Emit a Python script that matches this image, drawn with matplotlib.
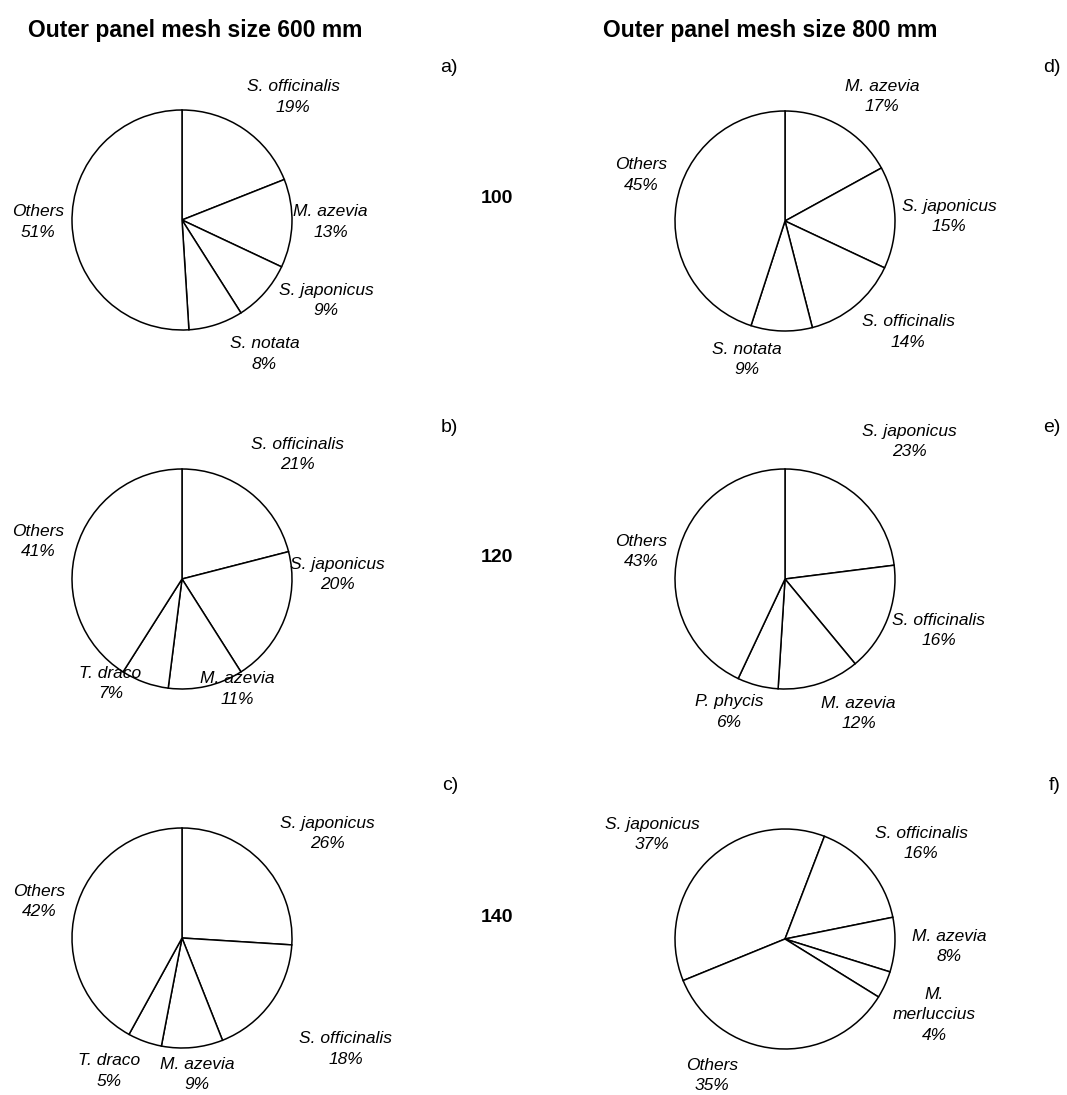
import matplotlib
matplotlib.use("Agg")
import matplotlib.pyplot as plt

# ---------------- data ----------------
col_titles = ["Outer panel mesh size 600 mm", "Outer panel mesh size 800 mm"]
row_labels = ["100", "120", "140"]
panel_letters = ["a)", "b)", "c)", "d)", "e)", "f)"]

species_a = ["S. officinalis", "M. azevia", "S. japonicus", "S. notata", "Others"]
values_a = [19, 13, 9, 8, 51]

species_b = ["S. officinalis", "S. japonicus", "M. azevia", "T. draco", "Others"]
values_b = [21, 20, 11, 7, 41]

species_c = ["S. japonicus", "S. officinalis", "M. azevia", "T. draco", "Others"]
values_c = [26, 18, 9, 5, 42]

species_d = ["M. azevia", "S. japonicus", "S. officinalis", "S. notata", "Others"]
values_d = [17, 15, 14, 9, 45]

species_e = ["S. japonicus", "S. officinalis", "M. azevia", "P. phycis", "Others"]
values_e = [23, 16, 12, 6, 43]

species_f = ["S. japonicus", "S. officinalis", "M. azevia", "M.\nmerluccius", "Others"]
values_f = [37, 16, 8, 4, 35]

# ---------------- layout (pixels / pie-radius units) ----------------
W, H = 1067, 1095
R = 110  # pie radius in px

panels = [
    # species, values, centre(px), startangle, label offsets (radius units, x right / y up)
    (species_a, values_a, (182, 220), 90,
     [(1.01, 1.12), (1.35, -0.02), (1.31, -0.73), (0.75, -1.22), (-1.31, -0.02)]),
    (species_b, values_b, (182, 579), 90,
     [(1.05, 1.13), (1.41, 0.04), (0.50, -1.00), (-0.65, -0.95), (-1.31, 0.34)]),
    (species_c, values_c, (182, 938), 90,
     [(1.32, 0.95), (1.49, -1.01), (0.14, -1.24), (-0.66, -1.21), (-1.30, 0.33)]),
    (species_d, values_d, (785, 221), 90,
     [(0.88, 1.13), (1.49, 0.04), (1.12, -1.01), (-0.35, -1.26), (-1.31, 0.42)]),
    (species_e, values_e, (785, 579), 90,
     [(1.13, 1.25), (1.40, -0.47), (0.67, -1.22), (-0.51, -1.21), (-1.31, 0.25)]),
    (species_f, values_f, (785, 939), 202.2,
     [(-1.21, 0.95), (1.24, 0.87), (1.49, -0.07), (1.36, -0.69), (-0.66, -1.24)]),
]

FONT = "Liberation Sans"
FS = 12.5

fig = plt.figure(figsize=(W / 100, H / 100), dpi=100)
fig.patch.set_facecolor("white")

for species, values, (cx, cy), start, offs in panels:
    ax = fig.add_axes([(cx - 2 * R) / W, (H - cy - 2 * R) / H, 4 * R / W, 4 * R / H])
    ax.pie(values, startangle=start, counterclock=False,
           colors=["white"] * len(values),
           wedgeprops=dict(edgecolor="black", linewidth=1.1))
    ax.set_xlim(-2, 2)
    ax.set_ylim(-2, 2)
    ax.set_aspect("equal")
    ax.axis("off")
    for name, v, (ox, oy) in zip(species, values, offs):
        ax.text(ox, oy, f"{name}\n{v}%", ha="center", va="center",
                fontsize=FS, fontstyle="italic", family=FONT,
                linespacing=1.45, multialignment="center")

# column titles
fig.text(195 / W, 1 - 30 / H, col_titles[0], ha="center", va="center",
         fontsize=16.5, fontweight="bold", family=FONT)
fig.text(770 / W, 1 - 30 / H, col_titles[1], ha="center", va="center",
         fontsize=16.5, fontweight="bold", family=FONT)

# row labels
for lab, y in zip(row_labels, [198.5, 558, 917]):
    fig.text(497 / W, 1 - y / H, lab, ha="center", va="center",
             fontsize=14, fontweight="bold", family=FONT)

# panel letters
letter_pos = [(458, 68), (458, 427), (458, 786), (1061, 68), (1061, 427), (1061, 786)]
for lab, (x, y) in zip(panel_letters, letter_pos):
    fig.text(x / W, 1 - y / H, lab, ha="right", va="center",
             fontsize=14, family=FONT)

fig.savefig("out.png", dpi=100, facecolor="white")
